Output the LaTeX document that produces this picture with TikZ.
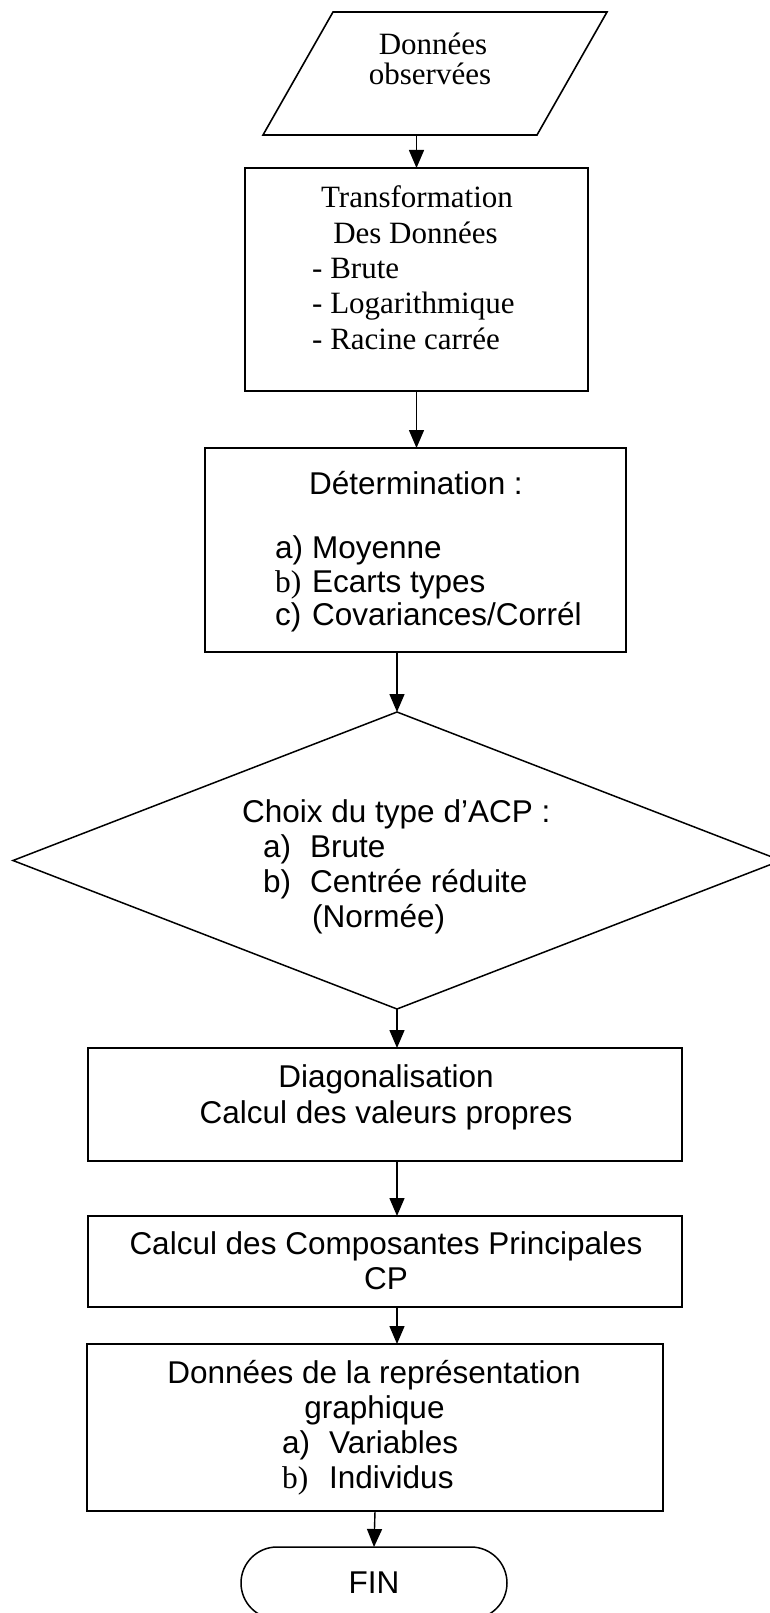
\documentclass[tikz,border=0pt]{standalone}
\usepackage{fontspec}
\setmainfont{Liberation Serif}
\setsansfont{Liberation Sans}
\usetikzlibrary{shapes.geometric,shapes.misc,arrows.meta}

\newcommand\sfz{\sffamily\fontsize{31.5}{35}\selectfont}
\newcommand\rmz{\rmfamily\fontsize{31}{35}\selectfont}

\begin{document}
\begin{tikzpicture}[x=1pt,y=-1pt,
  box/.style={draw, line width=1.6pt, rectangle, inner sep=0pt, outer sep=0pt},
  arr/.style={line width=1.4pt, -{Triangle[length=18pt,width=15pt]}},
  lbl/.style={inner sep=0pt, anchor=base, font=\sfz},
  lbll/.style={inner sep=0pt, anchor=base west, font=\sfz},
  slbl/.style={inner sep=0pt, anchor=base, font=\rmz},
  slbll/.style={inner sep=0pt, anchor=base west, font=\rmz}]

\path[use as bounding box, fill=white] (0,0) rectangle (770,1613);
\clip (0,0) rectangle (770,1613);

% Parallelogram
\node[minimum width=274pt, minimum height=123pt, inner sep=0pt, outer sep=0pt] (obs) at (435,73.5) {};
\draw[line width=1.6pt] ([xshift=-35pt]obs.south west) -- ([xshift=35pt]obs.north west)
  -- ([xshift=35pt]obs.north east) -- ([xshift=-35pt]obs.south east) -- cycle;
\node[slbl] (obs1) at (433,55) {Données};
\node[slbl] (obs2) at (430,85) {observées};

% Transformation box
\node[box, minimum width=343pt, minimum height=223pt] (t1) at (416.5,279.5) {};
\node[slbl] (t1a) at (417,208) {Transformation};
\node[slbl] (t1b) at (415.5,243.3) {Des Données};
\node[slbll] (t1c) at (312,278.6) {- Brute};
\node[slbll] (t1d) at (312,313.9) {- Logarithmique};
\node[slbll] (t1e) at (312,349.2) {- Racine carrée};

% Determination box
\node[box, minimum width=421pt, minimum height=204pt] (det) at (415.5,550) {};
\node[lbl] (det0) at (416,494) {Détermination :};
\node[lbll] (det1) at (275,558) {\makebox[37pt][l]{a)}Moyenne};
\node[lbll] (det2) at (275,592) {\makebox[37pt][l]{\rmfamily b)}Ecarts types};
\node[lbll] (det3) at (275,625) {\makebox[37pt][l]{c)}Covariances/Corrél};

% Diamond
\node[draw, diamond, line width=1.5pt, minimum width=768pt, minimum height=297pt,
      inner sep=0pt, outer sep=0pt, aspect=2.59] (choix) at (397,860.5) {};
\node[lbll] (ch0) at (242,822) {Choix du type d’ACP :};
\node[lbll] (ch1) at (263,857) {\makebox[47pt][l]{a)}Brute};
\node[lbll] (ch2) at (263,892) {\makebox[47pt][l]{b)}Centrée réduite};
\node[lbll] (ch3) at (312,927) {(Normée)};

% Diagonalisation
\node[box, minimum width=594pt, minimum height=113pt] (diag) at (385,1104.5) {};
\node[lbl] (dg1) at (386,1087) {Diagonalisation};
\node[lbl] (dg2) at (386,1123) {Calcul des valeurs propres};

% CP
\node[box, minimum width=594pt, minimum height=91pt] (cp) at (385,1261.5) {};
\node[lbl] (cp1) at (386,1254) {Calcul des Composantes Principales};
\node[lbl] (cp2) at (386,1289) {CP};

% Donnees graphiques
\node[box, minimum width=576pt, minimum height=167pt] (don) at (375,1427.5) {};
\node[lbl] (dn1) at (374,1383) {Données de la représentation};
\node[lbl] (dn2) at (374.5,1418) {graphique};
\node[lbll] (dn3) at (282,1453) {\makebox[47pt][l]{a)}Variables};
\node[lbll] (dn4) at (282,1488) {\makebox[47pt][l]{\rmfamily b)}Individus};

% FIN
\node[draw, rounded rectangle, line width=1.5pt, minimum width=266pt, minimum height=72pt,
      inner sep=0pt, outer sep=0pt, font=\sfz] (fin) at (374,1583) {FIN};

% Arrows
\draw[arr] (t1.north |- obs.south) -- (t1.north);
\draw[arr] (t1.south) -- (t1.south |- det.north);
\draw[arr] (choix.north |- det.south) -- (choix.north);
\draw[arr] (choix.south) -- (choix.south |- diag.north);
\draw[arr] (choix.south |- diag.south) -- (choix.south |- cp.north);
\draw[arr] (choix.south |- cp.south) -- (choix.south |- don.north);
\draw[arr] (don.south) -- (fin.north);
\end{tikzpicture}
\end{document}
